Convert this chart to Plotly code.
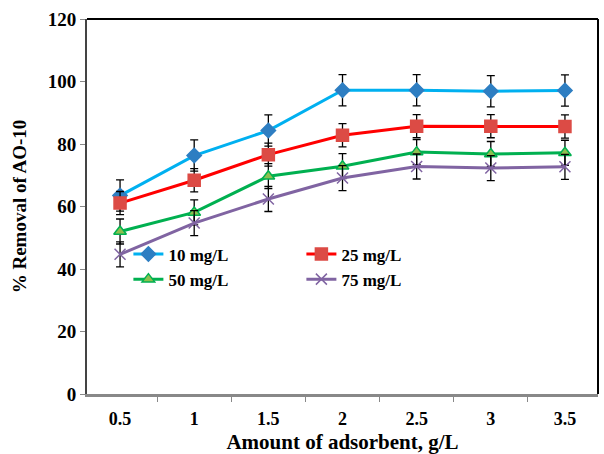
import plotly.graph_objects as go

categories = ["0.5", "1", "1.5", "2", "2.5", "3", "3.5"]
series_names = ["10 mg/L", "25 mg/L", "50 mg/L", "75 mg/L"]
s10 = [63.5, 76.3, 84.3, 97.2, 97.2, 96.9, 97.1]
s25 = [61.1, 68.4, 76.6, 82.8, 85.7, 85.7, 85.6]
s50 = [52.0, 58.1, 69.7, 72.9, 77.4, 76.8, 77.2]
s75 = [44.7, 54.7, 62.4, 69.1, 72.8, 72.3, 72.7]
err10 = [5, 5, 5, 5, 5, 5, 5]
err25 = [3.7, 3.7, 3.7, 3.7, 3.7, 3.7, 3.7]
err50 = [4, 4, 4, 4, 4, 4, 4]
err75 = [4, 4, 4, 4, 4, 4, 4]
y_ticks = [0, 20, 40, 60, 80, 100, 120]

styles = [
    dict(line="#00B0F0", mfill="#2E7EC2", mline="#2E7EC2", symbol="diamond", size=11),
    dict(line="#FF0000", mfill="#DC4B45", mline="#DC4B45", symbol="square", size=12),
    dict(line="#00B050", mfill="#8DBF4F", mline="#00B050", symbol="triangle-up", size=11),
    dict(line="#8064A2", mfill="#8064A2", mline="#8064A2", symbol="x-thin", size=11),
]

fig = go.Figure()
for name, ys, es, st in zip(series_names, [s10, s25, s50, s75], [err10, err25, err50, err75], styles):
    fig.add_trace(go.Scatter(
        x=categories, y=ys, name=name, mode="lines+markers",
        line=dict(color=st["line"], width=3),
        marker=dict(symbol=st["symbol"], size=st["size"], color=st["mfill"],
                    line=dict(color=st["mline"], width=1.5)),
        error_y=dict(type="data", array=es, visible=True, color="black", thickness=1.3, width=4),
    ))

ff = "Liberation Serif"
fig.update_layout(
    width=604, height=454,
    margin=dict(l=87, r=6, t=19, b=60),
    paper_bgcolor="white", plot_bgcolor="white",
    font=dict(family=ff, size=16, color="black"),
    showlegend=True,
    legend=dict(orientation="h", x=0.081, y=0.42, xanchor="left", yanchor="top",
                entrywidth=128, font=dict(family=ff, size=17, color="black", weight="bold"),
                bgcolor="rgba(0,0,0,0)", itemwidth=30, tracegroupgap=0),
    xaxis=dict(
        type="category", tickson="boundaries", ticks="outside", ticklen=5, tickcolor="#888",
        showline=True, linecolor="#888", linewidth=3, showgrid=False, automargin=False,
        tickfont=dict(family=ff, size=18, weight="bold"), ticklabelstandoff=6,
        title=dict(text="Amount of adsorbent, g/L", font=dict(family=ff, size=21, weight="bold"), standoff=8),
    ),
    yaxis=dict(
        range=[0, 120], tickvals=y_ticks, ticks="outside", ticklen=5, tickcolor="#888",
        showline=True, linecolor="#444", linewidth=2, showgrid=False, zeroline=False, automargin=False,
        tickfont=dict(family=ff, size=19, weight="bold"),
        title=dict(text="% Removal of AO-10", font=dict(family=ff, size=19, weight="bold"), standoff=16),
    ),
)
fig.add_shape(type="line", xref="paper", yref="paper", x0=0, x1=1, y0=1, y1=1,
              line=dict(color="black", width=2))
fig.add_shape(type="line", xref="paper", yref="paper", x0=1, x1=1, y0=0, y1=1,
              line=dict(color="black", width=2))

fig.write_html("out.html")
